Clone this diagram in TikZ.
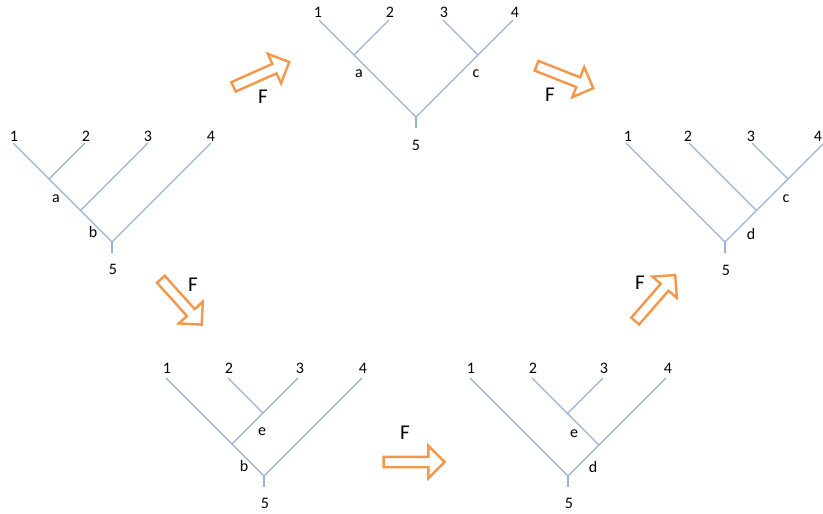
\documentclass[tikz,border=0pt]{standalone}
\usepackage{fontspec}
\setmainfont{Carlito}
\usepackage{xcolor}
\definecolor{branch}{HTML}{95B3D7}
\definecolor{orng}{HTML}{F79646}
\usepackage{tikz}
\usetikzlibrary{shapes.arrows}
\tikzset{edge/.style={draw=branch,line width=1.1pt},lbl/.style={font=\fontsize{16}{18}\selectfont,inner sep=0pt},flab/.style={font=\fontsize{21}{24}\selectfont,inner sep=0pt}}

\begin{document}
\begin{tikzpicture}[x=1pt,y=-1pt,fmap/.style={single arrow,draw=orng,fill=white,line width=2.4pt,minimum height=61pt,inner xsep=0pt,inner ysep=4pt,single arrow head extend=11pt,single arrow tip angle=90}]
\useasboundingbox (0,0) rectangle (823,514);
% left tree: ((1,2),3),4
\coordinate (p1) at (13,143);\coordinate (p2) at (85,143);\coordinate (p3) at (148,143);\coordinate (p4) at (211,143);
\coordinate (pa) at (49,179);\coordinate (pb) at (80.5,210.5);\coordinate (pr) at (112,242);\coordinate (ps) at (112,253);
\draw[edge] (p1)--(pr);\draw[edge] (p2)--(pa);\draw[edge] (p3)--(pb);\draw[edge] (p4)--(pr);\draw[edge] (pr)--(ps);
\node[lbl] (pt1) at (14,136) {1};\node[lbl] (pt2) at (86,136) {2};\node[lbl] (pt3) at (148,136) {3};\node[lbl] (pt4) at (211,136) {4};
\node[lbl] (pta) at (56,199) {a};\node[lbl] (ptb) at (93,232) {b};\node[lbl] (pt5) at (113,269) {5};
% top tree: (1,2),(3,4)
\coordinate (q1) at (319,20);\coordinate (q2) at (389,20);\coordinate (q3) at (443,20);\coordinate (q4) at (513,20);
\coordinate (qa) at (354,55);\coordinate (qc) at (478,55);\coordinate (qr) at (416,117);\coordinate (qs) at (416,128);
\draw[edge] (q1)--(qr);\draw[edge] (q2)--(qa);\draw[edge] (q3)--(qc);\draw[edge] (q4)--(qr);\draw[edge] (qr)--(qs);
\node[lbl] (qt1) at (318,12) {1};\node[lbl] (qt2) at (390,12) {2};\node[lbl] (qt3) at (444,12) {3};\node[lbl] (qt4) at (515,12) {4};
\node[lbl] (qta) at (359,74) {a};\node[lbl] (qtc) at (476,74) {c};\node[lbl] (qt5) at (416,145) {5};
% right tree: 1,(2,(3,4))
\coordinate (r1) at (626,143);\coordinate (r2) at (689,143);\coordinate (r3) at (752,143);\coordinate (r4) at (824,143);
\coordinate (rc) at (788,179);\coordinate (rd) at (756.5,210.5);\coordinate (rr) at (725,242);\coordinate (rs) at (725,253);
\draw[edge] (r1)--(rr);\draw[edge] (r2)--(rd);\draw[edge] (r3)--(rc);\draw[edge] (r4)--(rr);\draw[edge] (rr)--(rs);
\node[lbl] (rt1) at (628,136) {1};\node[lbl] (rt2) at (688,136) {2};\node[lbl] (rt3) at (751,136) {3};\node[lbl] (rt4) at (818,136) {4};
\node[lbl] (rtc) at (786,199) {c};\node[lbl] (rtd) at (751,234) {d};\node[lbl] (rt5) at (726,270) {5};
% bottom left tree: (1,(2,3)),4
\coordinate (s1) at (166,378);\coordinate (s2) at (228,378);\coordinate (s3) at (298,378);\coordinate (s4) at (362,378);
\coordinate (se) at (263,413);\coordinate (sb) at (232,444);\coordinate (sr) at (264,476);\coordinate (ss) at (264,487);
\draw[edge] (s1)--(sr);\draw[edge] (s2)--(se);\draw[edge] (s3)--(sb);\draw[edge] (s4)--(sr);\draw[edge] (sr)--(ss);
\node[lbl] (st1) at (167,368) {1};\node[lbl] (st2) at (229,368) {2};\node[lbl] (st3) at (300,368) {3};\node[lbl] (st4) at (363,368) {4};
\node[lbl] (ste) at (262,432) {e};\node[lbl] (stb) at (244,466) {b};\node[lbl] (st5) at (265,503) {5};
% bottom right tree: 1,((2,3),4)
\coordinate (u1) at (470,378);\coordinate (u2) at (532,378);\coordinate (u3) at (603,378);\coordinate (u4) at (666,378);
\coordinate (ue) at (567.5,413.5);\coordinate (ud) at (599,445);\coordinate (ur) at (568,476);\coordinate (us) at (568,487);
\draw[edge] (u1)--(ur);\draw[edge] (u2)--(ud);\draw[edge] (u3)--(ue);\draw[edge] (u4)--(ur);\draw[edge] (ur)--(us);
\node[lbl] (ut1) at (471,368) {1};\node[lbl] (ut2) at (533,368) {2};\node[lbl] (ut3) at (604,368) {3};\node[lbl] (ut4) at (668,368) {4};
\node[lbl] (ute) at (574,434) {e};\node[lbl] (utd) at (593,467) {d};\node[lbl] (ut5) at (569,503) {5};
% moves F
\node[fmap,rotate=24] (f1) at (259,75.5) {};\node[flab] (fl1) at (263,97) {F};
\node[fmap,rotate=-21.5] (f2) at (562.5,76) {};\node[flab] (fl2) at (550,95) {F};
\node[fmap,rotate=-48] (f3) at (179.5,300) {};\node[flab] (fl3) at (193,285) {F};
\node[fmap,rotate=49] (f4) at (653.5,300) {};\node[flab] (fl4) at (640,283) {F};
\node[fmap] (f5) at (411.5,462) {};\node[flab] (fl5) at (405,433) {F};
\end{tikzpicture}
\end{document}
